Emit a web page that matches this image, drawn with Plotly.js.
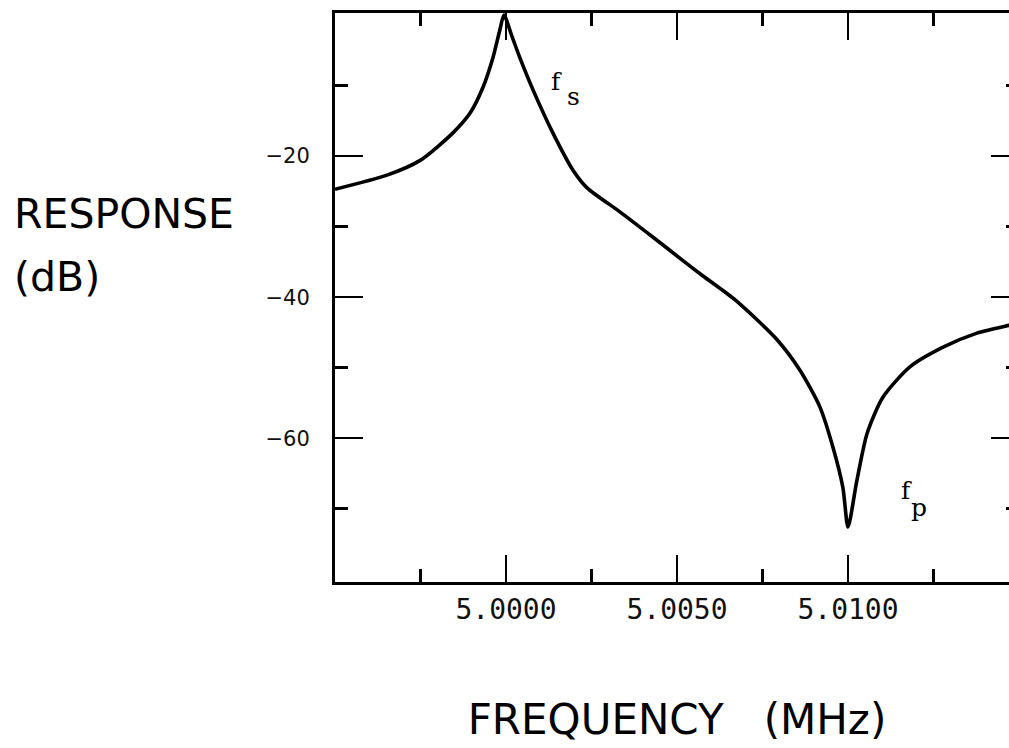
<!DOCTYPE html>
<html><head><meta charset="utf-8">
<script src="https://cdn.plot.ly/plotly-3.0.1.min.js"></script>
<style>
html,body{margin:0;padding:0;overflow:hidden;background:#fff;width:1009px;height:748px}
#chart{width:1100px;height:748px}
</style>
</head><body><div id="chart"></div><script>
// Frequency (MHz) and response (dB)
const frequencyMHz = [4.99500, 4.99652, 4.99749, 4.99845, 4.99895, 4.99933, 4.99962, 4.99982, 4.99994,
  5.00018, 5.00041, 5.00079, 5.00137, 5.00196, 5.00237, 5.00333, 5.00430, 5.00509, 5.00576, 5.00670,
  5.00792, 5.00860, 5.00918, 5.00956, 5.00985, 5.01000, 5.01026, 5.01056, 5.01102, 5.01181, 5.01278,
  5.01377, 5.01471, 5.01500];
const responseDb = [-24.7, -22.7, -20.6, -16.7, -13.9, -10.2, -6.0, -2.1, 0.0,
  -3.1, -6.1, -10.6, -16.7, -22.0, -24.5, -27.9, -31.5, -34.5, -37.0, -40.4,
  -46.0, -50.4, -55.6, -61.3, -67.0, -72.6, -66.0, -59.3, -54.2, -49.9, -47.1,
  -45.1, -44.0, -43.7];

const xTickVals = [5.0000, 5.0050, 5.0100];
const xTickText = ['5.0000', '5.0050', '5.0100'];
const xMinorVals = [4.9975, 5.0025, 5.0075, 5.0125];
const yTickVals = [-20, -40, -60];
const yTickText = ['\u221220', '\u221240', '\u221260'];
const yMinorVals = [-10, -30, -50, -70];

const trace = {
  x: frequencyMHz, y: responseDb, type: 'scatter', mode: 'lines',
  line: {color: '#000', width: 3.6, shape: 'spline', smoothing: 0.7}, hoverinfo: 'skip'
};

const layout = {
  width: 1100, height: 748,
  margin: {l: 335, r: 81, t: 13, b: 166, pad: 0},
  paper_bgcolor: '#fff', plot_bgcolor: '#fff',
  showlegend: false,
  xaxis: {
    range: [4.995, 5.015], showgrid: false, zeroline: false,
    showline: true, linecolor: '#000', linewidth: 3, mirror: 'ticks',
    ticks: 'inside', ticklen: 27, tickwidth: 2.6, tickcolor: '#000',
    tickmode: 'array', tickvals: xTickVals, ticktext: xTickText,
    tickfont: {family: 'DejaVu Sans Mono', size: 28, color: '#111'},
    ticklabelstandoff: 0,
    minor: {ticks: 'inside', ticklen: 13, tickwidth: 2.6, tickcolor: '#000', tickvals: xMinorVals, showgrid: false},
    title: {text: 'FREQUENCY\u00a0\u00a0\u00a0(MHz)', standoff: 81, font: {family: 'DejaVu Sans', size: 42, color: '#000'}}
  },
  yaxis: {
    range: [-80.4, 0.3], showgrid: false, zeroline: false,
    showline: true, linecolor: '#000', linewidth: 3, mirror: 'ticks',
    ticks: 'inside', ticklen: 28, tickwidth: 2.6, tickcolor: '#000',
    tickmode: 'array', tickvals: yTickVals, ticktext: yTickText,
    tickfont: {family: 'DejaVu Sans', size: 21, color: '#111'},
    ticklabelstandoff: 18,
    minor: {ticks: 'inside', ticklen: 13, tickwidth: 2.6, tickcolor: '#000', tickvals: yMinorVals, showgrid: false}
  },
  annotations: [
    {text: 'RESPONSE', xref: 'paper', yref: 'paper', x: -0.472, y: 0.646, xanchor: 'left', yanchor: 'middle',
     showarrow: false, font: {family: 'DejaVu Sans', size: 41, color: '#000'}},
    {text: '(dB)', xref: 'paper', yref: 'paper', x: -0.472, y: 0.536, xanchor: 'left', yanchor: 'middle',
     showarrow: false, font: {family: 'DejaVu Sans', size: 41, color: '#000'}},
    {text: 'f', xref: 'x', yref: 'y', x: 5.00149, y: -9.4, xanchor: 'center', yanchor: 'middle',
     showarrow: false, font: {family: 'DejaVu Serif', size: 25, color: '#000'}},
    {text: 's', xref: 'x', yref: 'y', x: 5.00196, y: -11.6, xanchor: 'center', yanchor: 'middle',
     showarrow: false, font: {family: 'DejaVu Serif', size: 25, color: '#000'}},
    {text: 'f', xref: 'x', yref: 'y', x: 5.01170, y: -67.4, xanchor: 'center', yanchor: 'middle',
     showarrow: false, font: {family: 'DejaVu Serif', size: 25, color: '#000'}},
    {text: 'p', xref: 'x', yref: 'y', x: 5.01208, y: -69.8, xanchor: 'center', yanchor: 'middle',
     showarrow: false, font: {family: 'DejaVu Serif', size: 25, color: '#000'}}
  ]
};

Plotly.newPlot('chart', [trace], layout, {displayModeBar: false, staticPlot: true});
</script></body></html>
